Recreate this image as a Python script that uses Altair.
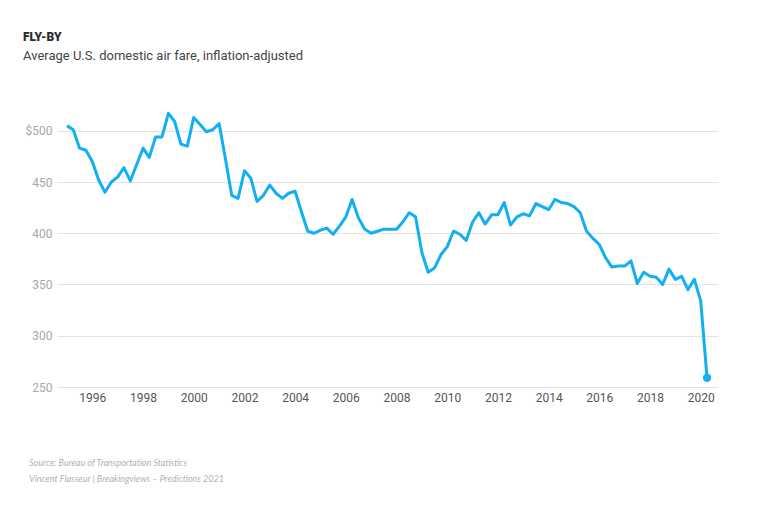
import altair as alt
import pandas as pd

# Quarterly average U.S. domestic air fare (inflation-adjusted), 1995 Q1 - 2020 Q2
years = list(range(1995, 2021))
quarter_months = ["01", "04", "07", "10"]
fares = [
    505, 501, 483, 481,   # 1995
    470, 452, 440, 450,   # 1996
    455, 464, 451, 467,   # 1997
    483, 474, 494, 494,   # 1998
    517, 509, 487, 485,   # 1999
    513, 506, 499, 501,   # 2000
    507, 473, 437, 434,   # 2001
    461, 454, 431, 437,   # 2002
    447, 439, 434, 439,   # 2003
    441, 421, 402, 400,   # 2004
    403, 405, 399, 407,   # 2005
    416, 433, 415, 404,   # 2006
    400, 402, 404, 404,   # 2007
    404, 411, 420, 416,   # 2008
    381, 362, 366, 379,   # 2009
    387, 402, 399, 393,   # 2010
    411, 420, 409, 418,   # 2011
    418, 430, 408, 416,   # 2012
    419, 417, 429, 426,   # 2013
    423, 433, 430, 429,   # 2014
    426, 420, 402, 395,   # 2015
    389, 376, 367, 368,   # 2016
    368, 373, 351, 362,   # 2017
    358, 357, 350, 365,   # 2018
    355, 358, 345, 355,   # 2019
    334, 259,             # 2020
]
y_ticks = [250, 300, 350, 400, 450, 500]
x_tick_years = list(range(1996, 2021, 2))
source_note = "Source: Bureau of Transportation Statistics"
credit_note = "Vincent Flasseur | Breakingviews \u2013 Predictions 2021"

dates = [f"{y}-{m}-01T00:00:00" for y in years for m in quarter_months][: len(fares)]
df = pd.DataFrame({"date": dates, "fare": fares})
last = df.tail(1)

LINE = "#12b0f2"
FONT = "Roboto"

x_enc = alt.X(
    "date:T",
    scale=alt.Scale(domain=["1994-08-10T00:00:00", "2020-09-06T00:00:00"]),
    axis=alt.Axis(
        title=None,
        format="%Y",
        values=[alt.DateTime(year=y, month=1, date=1) for y in x_tick_years],
        grid=False, domain=False, ticks=False,
        labelColor="#555555", labelFontSize=12, labelFont=FONT, labelPadding=5,
    ),
)
y_enc = alt.Y(
    "fare:Q",
    scale=alt.Scale(domain=[250, 530], nice=False, zero=False),
    axis=alt.Axis(
        title=None,
        values=y_ticks,
        labelExpr="datum.value == 500 ? '$500' : datum.label",
        grid=True, gridColor="#e3e3e3", gridWidth=1,
        domain=False, ticks=False,
        labelColor="#a8a8a8", labelFontSize=12, labelFont=FONT, labelPadding=5,
    ),
)

line = alt.Chart(df).mark_line(color=LINE, strokeWidth=3, strokeJoin="round").encode(x=x_enc, y=y_enc)
dot = alt.Chart(last).mark_circle(color=LINE, size=70, opacity=1).encode(x=x_enc, y=y_enc)


def note(text, ypos):
    return alt.Chart(pd.DataFrame({"t": [text]})).mark_text(
        align="left", baseline="middle", fontSize=9, fontStyle="italic",
        font="Lato", color="#b0b0b0",
    ).encode(x=alt.value(-28), y=alt.value(ypos), text="t:N")


chart = alt.layer(line, dot, note(source_note, 362.5), note(credit_note, 378.5)).properties(
    width=661,
    height=287,
    autosize=alt.AutoSizeParams(type="none"),
    padding={"left": 49, "top": 92, "right": 20, "bottom": 100},
    background="white",
    title=alt.TitleParams(
        text="FLY-BY",
        subtitle="Average U.S. domestic air fare, inflation-adjusted",
        anchor="start", frame="group", dx=-34, offset=36.5,
        font=FONT, fontSize=12, fontWeight=900, color="#2a2a2a",
        subtitleFont=FONT, subtitleFontSize=13, subtitleColor="#444444",
        subtitlePadding=6,
    ),
).configure_view(stroke=None, strokeWidth=0)

chart.save("out.html", embed_options={"renderer": "svg", "actions": False})
